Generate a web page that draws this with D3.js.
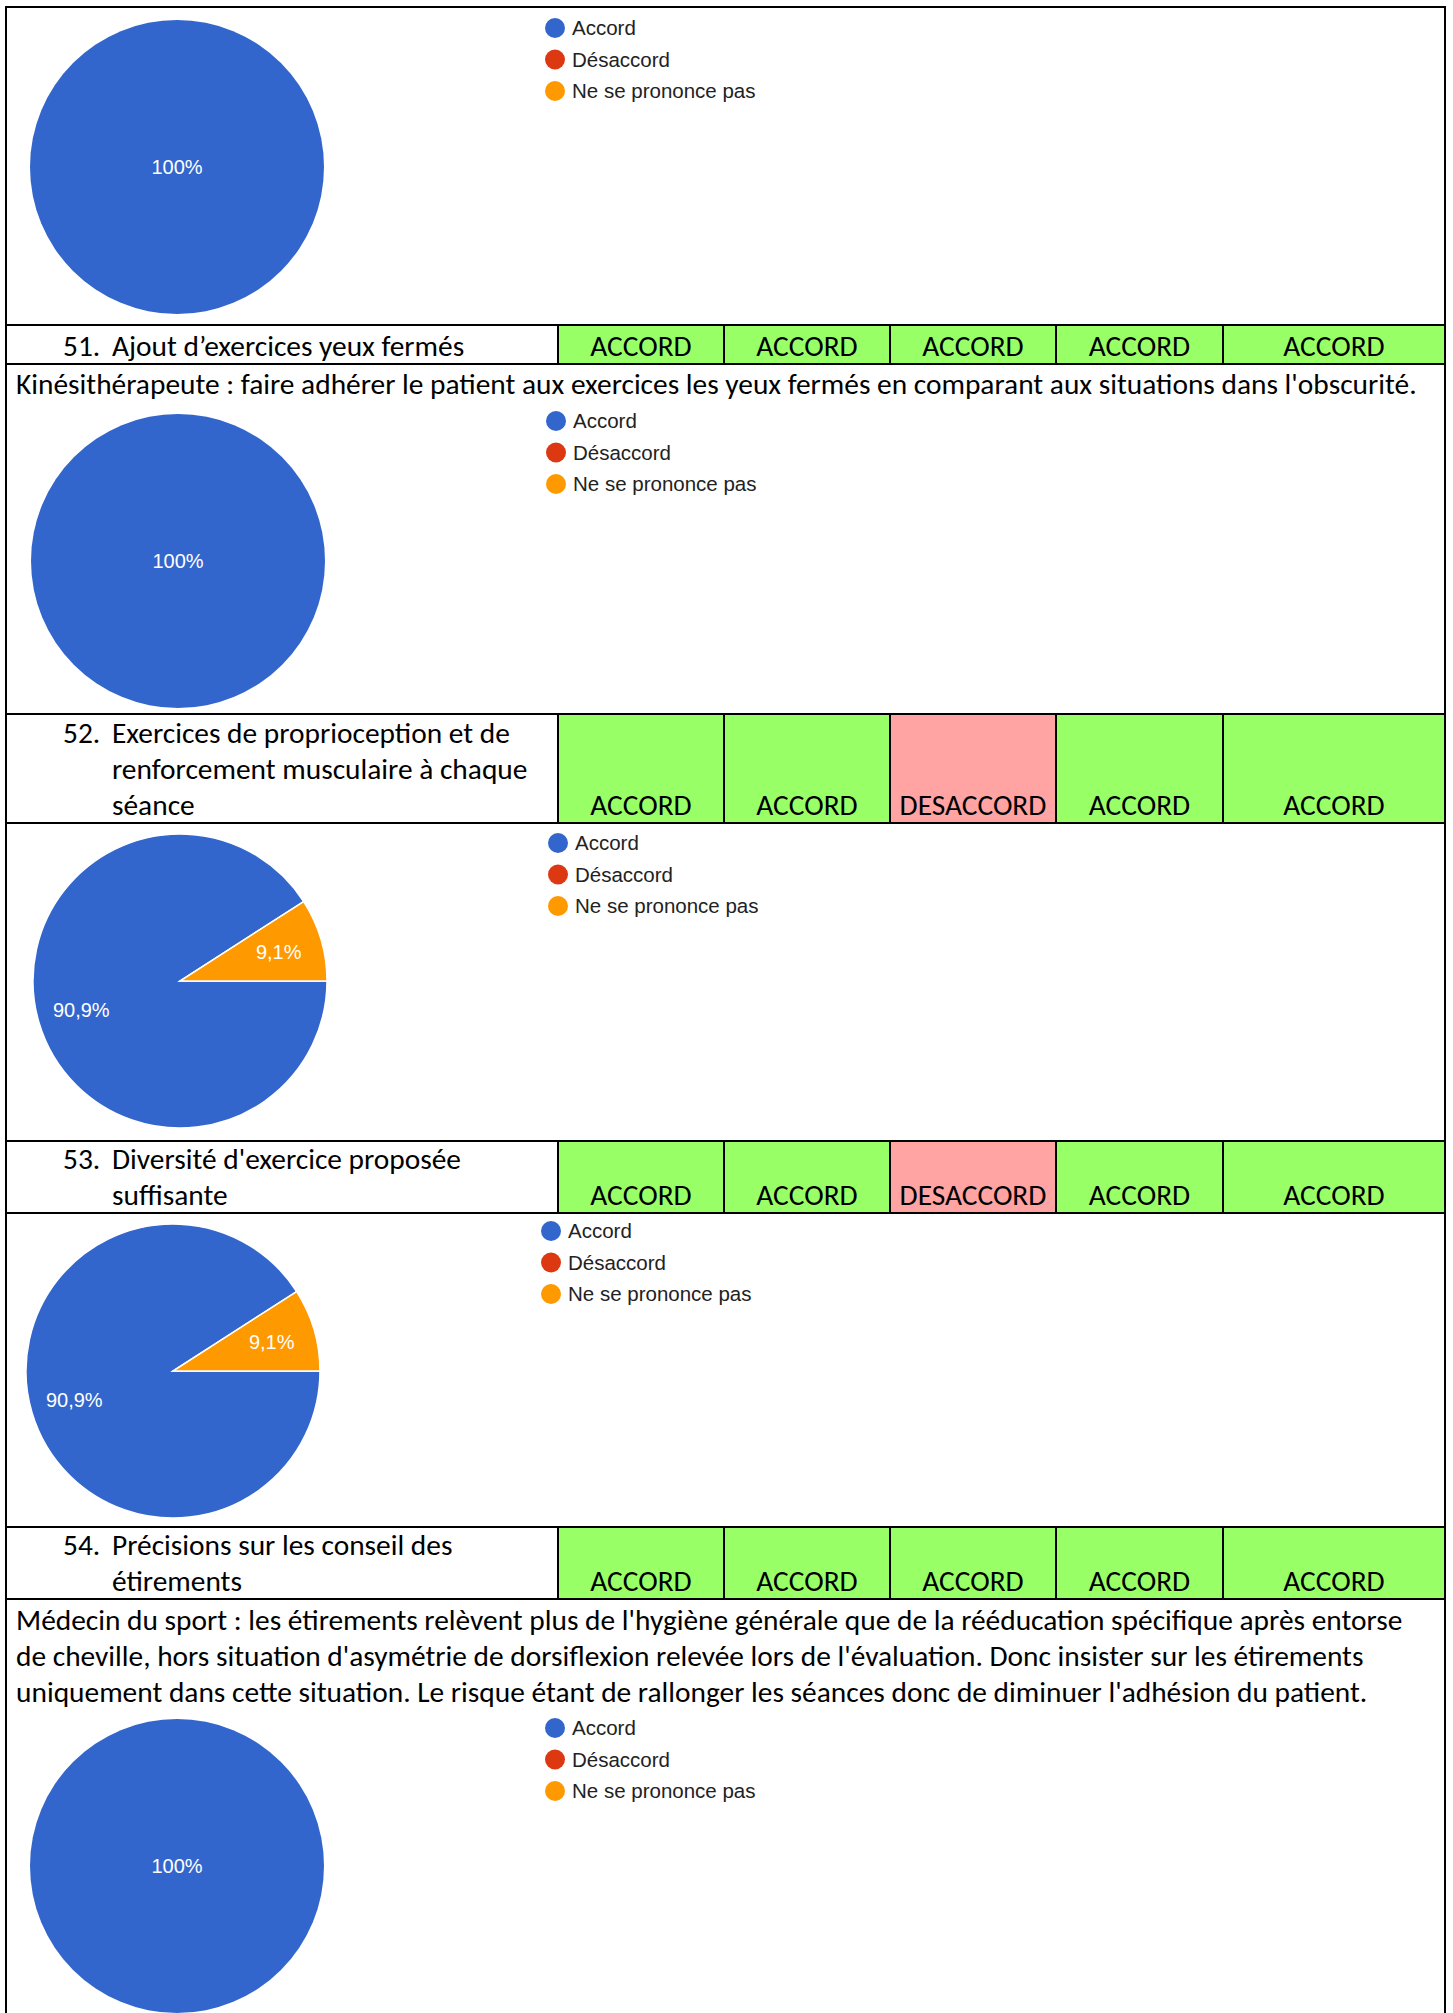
<!DOCTYPE html>
<html lang="fr">
<head>
<meta charset="utf-8">
<script src="https://cdn.jsdelivr.net/npm/d3@7"></script>
<style>
  html, body { margin: 0; padding: 0; background: #fff; }
  svg { display: block; }
  .cell-text { font-family: Carlito, Calibri, Lato, "Open Sans", sans-serif; font-size: 29.4px; fill: #000; }
  .legend-text { font-family: Arial, "Liberation Sans", sans-serif; font-size: 20.5px; fill: #222; }
  .slice-label { font-family: Arial, "Liberation Sans", sans-serif; font-size: 20px; fill: #fff; }
</style>
</head>
<body>
<svg id="sheet" width="1453" height="2013"></svg>
<script>
// ---- Data -------------------------------------------------------------
const questionNumbers = ["51.", "52.", "53.", "54."];
const questionTitles = [
  ["Ajout d’exercices yeux fermés"],
  ["Exercices de proprioception et de", "renforcement musculaire à chaque", "séance"],
  ["Diversité d'exercice proposée", "suffisante"],
  ["Précisions sur les conseil des", "étirements"]
];
const expertVotes = [
  ["ACCORD", "ACCORD", "ACCORD", "ACCORD", "ACCORD"],
  ["ACCORD", "ACCORD", "DESACCORD", "ACCORD", "ACCORD"],
  ["ACCORD", "ACCORD", "DESACCORD", "ACCORD", "ACCORD"],
  ["ACCORD", "ACCORD", "ACCORD", "ACCORD", "ACCORD"]
];
const expertComments = [
  ["Kinésithérapeute : faire adhérer le patient aux exercices les yeux fermés en comparant aux situations dans l'obscurité."],
  [],
  [],
  ["Médecin du sport : les étirements relèvent plus de l'hygiène générale que de la rééducation spécifique après entorse",
   "de cheville, hors situation d'asymétrie de dorsiflexion relevée lors de l'évaluation. Donc insister sur les étirements",
   "uniquement dans cette situation. Le risque étant de rallonger les séances donc de diminuer l'adhésion du patient."]
];
const answerLabels = ["Accord", "Désaccord", "Ne se prononce pas"];
const answerColors = ["#3366cc", "#dc3912", "#ff9900"];
// respondents per answer, one survey chart per block (question 50 then 51 to 54)
const surveyCounts = [
  [11, 0, 0],
  [11, 0, 0],
  [10, 0, 1],
  [10, 0, 1],
  [11, 0, 0]
];

// ---- Layout -----------------------------------------------------------
const W = 1453, H = 2013;
const frameLeft = 6, frameRight = 1445, frameTop = 7;
const columnEdges = [558, 724, 890, 1056, 1223, 1445];
const headerBands = [[325, 364], [714, 823], [1141, 1213], [1527, 1599]];
const commentBaselines = [[394], [], [], [1630, 1666, 1702]];
const pieCenters = [[177, 167], [178, 561], [180, 981], [173, 1371], [177, 1866]];
const legendOrigins = [[555, 28], [556, 421], [558, 843], [551, 1231], [555, 1728]];
const pieRadius = 147;
const lineGap = 36;

const svg = d3.select("#sheet");

const voteFill = d3.scaleOrdinal()
  .domain(["ACCORD", "DESACCORD"])
  .range(["#99ff66", "#ffa3a3"]);
const colLeft = d3.scaleOrdinal().domain(d3.range(5)).range(columnEdges.slice(0, 5));
const colRight = d3.scaleOrdinal().domain(d3.range(5)).range(columnEdges.slice(1));
const answerColor = d3.scaleOrdinal().domain(answerLabels).range(answerColors);

const frLocale = d3.formatLocale({ decimal: ",", thousands: " ", grouping: [3], currency: ["", " €"] });
const fmtPct = v => frLocale.format(".1~f")(v) + "%";

// ---- Table rows ------------------------------------------------------------
const rows = svg.append("g").attr("class", "rows");
questionNumbers.forEach((num, qi) => {
  const [y0, y1] = headerBands[qi];
  const g = rows.append("g");
  const lastBase = y1 - 8;
  const lines = questionTitles[qi];
  const firstBase = lastBase - (lines.length - 1) * lineGap;

  // vote cells
  g.selectAll("rect.vote")
    .data(expertVotes[qi])
    .join("rect")
    .attr("class", "vote")
    .attr("x", (d, i) => colLeft(i))
    .attr("y", y0)
    .attr("width", (d, i) => colRight(i) - colLeft(i))
    .attr("height", y1 - y0)
    .attr("fill", d => voteFill(d));

  g.selectAll("text.vote")
    .data(expertVotes[qi])
    .join("text")
    .attr("class", "vote cell-text")
    .attr("x", (d, i) => (colLeft(i) + colRight(i)) / 2)
    .attr("y", lastBase)
    .attr("text-anchor", "middle")
    .text(d => d);

  // question number and wrapped title
  g.append("text").attr("class", "cell-text")
    .attr("x", 63).attr("y", firstBase).text(num);
  g.selectAll("text.title")
    .data(lines)
    .join("text")
    .attr("class", "title cell-text")
    .attr("x", 112)
    .attr("y", (d, i) => firstBase + i * lineGap)
    .text(d => d);

  // comments under the row
  g.selectAll("text.comment")
    .data(expertComments[qi])
    .join("text")
    .attr("class", "comment cell-text")
    .attr("x", 16)
    .attr("y", (d, i) => commentBaselines[qi][i])
    .text(d => d);
});

// ---- Pie charts ----------------------------------------------------------
const pie = d3.pie().sort(null).value(d => d.count)
  .startAngle(Math.PI / 2).endAngle(Math.PI / 2 + 2 * Math.PI);
const arc = d3.arc().innerRadius(0).outerRadius(pieRadius);
const labelArc = d3.arc().innerRadius(pieRadius * 0.7).outerRadius(pieRadius * 0.7);

surveyCounts.forEach((counts, ci) => {
  const total = d3.sum(counts);
  const data = counts.map((c, i) => ({ label: answerLabels[i], count: c }));
  const [cx, cy] = pieCenters[ci];
  const g = svg.append("g").attr("transform", `translate(${cx},${cy})`);
  const arcs = pie(data).filter(d => d.data.count > 0);

  g.selectAll("path")
    .data(arcs)
    .join("path")
    .attr("d", arc)
    .attr("fill", d => answerColor(d.data.label))
    .attr("stroke", "#fff")
    .attr("stroke-width", arcs.length > 1 ? 1.5 : 0);

  g.selectAll("text")
    .data(arcs)
    .join("text")
    .attr("class", "slice-label")
    .attr("text-anchor", "middle")
    .attr("dy", "0.35em")
    .attr("transform", d => arcs.length === 1 ? "translate(0,0)" : `translate(${labelArc.centroid(d)})`)
    .text(d => fmtPct(d.data.count / total * 100));

  // legend
  const [lx, ly] = legendOrigins[ci];
  const leg = svg.append("g").attr("transform", `translate(${lx},${ly})`);
  const item = leg.selectAll("g")
    .data(answerLabels)
    .join("g")
    .attr("transform", (d, i) => `translate(0,${i * 31.5})`);
  item.append("circle").attr("r", 10).attr("fill", d => answerColor(d));
  item.append("text").attr("class", "legend-text")
    .attr("x", 17).attr("dy", "0.36em").text(d => d);
});

// ---- Grid lines ------------------------------------------------------------
const grid = svg.append("g").attr("stroke", "#000").attr("stroke-width", 2).attr("fill", "none");
const hLines = [frameTop].concat(headerBands.flat());
grid.selectAll("line.h")
  .data(hLines)
  .join("line")
  .attr("class", "h")
  .attr("x1", frameLeft).attr("x2", frameRight)
  .attr("y1", d => d).attr("y2", d => d);
grid.append("line").attr("x1", frameLeft).attr("x2", frameLeft).attr("y1", frameTop - 1).attr("y2", H);
grid.append("line").attr("x1", frameRight).attr("x2", frameRight).attr("y1", frameTop - 1).attr("y2", H);
headerBands.forEach(([y0, y1]) => {
  grid.selectAll(null)
    .data(columnEdges)
    .join("line")
    .attr("x1", d => d).attr("x2", d => d)
    .attr("y1", y0).attr("y2", y1);
});
</script>
</body>
</html>
